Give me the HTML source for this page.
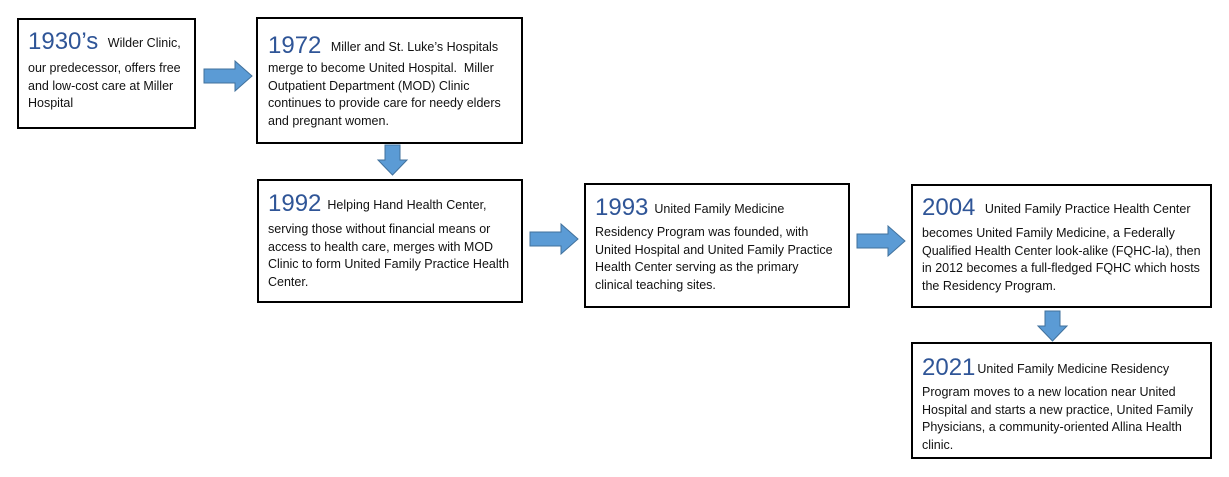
<!DOCTYPE html>
<html><head><meta charset="utf-8"><style>
body{margin:0;width:1229px;height:477px;background:#fff;position:relative;overflow:hidden;font-family:"Liberation Sans",sans-serif;color:#111}
.b{position:absolute;border:2px solid #000;box-sizing:border-box;background:#fff}
.t{position:absolute;white-space:nowrap;font-size:12.5px;line-height:17.6px}
.y{font-size:24px;color:#2f5597;margin-right:6px;vertical-align:-2px}
svg{position:absolute;left:0;top:0}
</style></head><body>
<svg width="1229" height="477">
<g fill="#5b9bd5" stroke="#41719c" stroke-width="1">
<polygon points="204,69 235,69 235,61 252,76 235,91 235,83 204,83"/>
<polygon points="385,145 400,145 400,160 407,160 392.5,175 378,160 385,160"/>
<polygon points="530,232 561,232 561,224 578,239 561,254 561,246 530,246"/>
<polygon points="857,234 888,234 888,226 905,241 888,256 888,248 857,248"/>
<polygon points="1045,311 1060,311 1060,326 1067,326 1052.5,341 1038,326 1045,326"/>
</g></svg>

<div class="b" style="left:17px;top:18px;width:179px;height:111px"></div>
<div class="t" style="left:28px;top:28px;line-height:28px"><span class="y">1930’s</span> Wilder Clinic,</div>
<div class="t" style="left:28px;top:60px">our predecessor, offers free<br>and low-cost care at Miller<br>Hospital</div>

<div class="b" style="left:256px;top:17px;width:267px;height:127px"></div>
<div class="t" style="left:268px;top:32px;line-height:28px"><span class="y">1972</span> Miller and St. Luke’s Hospitals</div>
<div class="t" style="left:268px;top:60px">merge to become United Hospital.&nbsp; Miller<br>Outpatient Department (MOD) Clinic<br>continues to provide care for needy elders<br>and pregnant women.</div>

<div class="b" style="left:257px;top:179px;width:266px;height:124px"></div>
<div class="t" style="left:268px;top:190px;line-height:28px"><span class="y">1992</span>Helping Hand Health Center,</div>
<div class="t" style="left:268px;top:221px">serving those without financial means or<br>access to health care, merges with MOD<br>Clinic to form United Family Practice Health<br>Center.</div>

<div class="b" style="left:584px;top:183px;width:266px;height:125px"></div>
<div class="t" style="left:595px;top:194px;line-height:28px"><span class="y">1993</span>United Family Medicine</div>
<div class="t" style="left:595px;top:224px">Residency Program was founded, with<br>United Hospital and United Family Practice<br>Health Center serving as the primary<br>clinical teaching sites.</div>

<div class="b" style="left:911px;top:184px;width:301px;height:124px"></div>
<div class="t" style="left:922px;top:194px;line-height:28px"><span class="y">2004</span> United Family Practice Health Center</div>
<div class="t" style="left:922px;top:225px">becomes United Family Medicine, a Federally<br>Qualified Health Center look-alike (FQHC-la), then<br>in 2012 becomes a full-fledged FQHC which hosts<br>the Residency Program.</div>

<div class="b" style="left:911px;top:342px;width:301px;height:117px"></div>
<div class="t" style="left:922px;top:354px;line-height:28px"><span class="y" style="margin-right:2px">2021</span>United Family Medicine Residency</div>
<div class="t" style="left:922px;top:384px">Program moves to a new location near United<br>Hospital and starts a new practice, United Family<br>Physicians, a community-oriented Allina Health<br>clinic.</div>
</body></html>
